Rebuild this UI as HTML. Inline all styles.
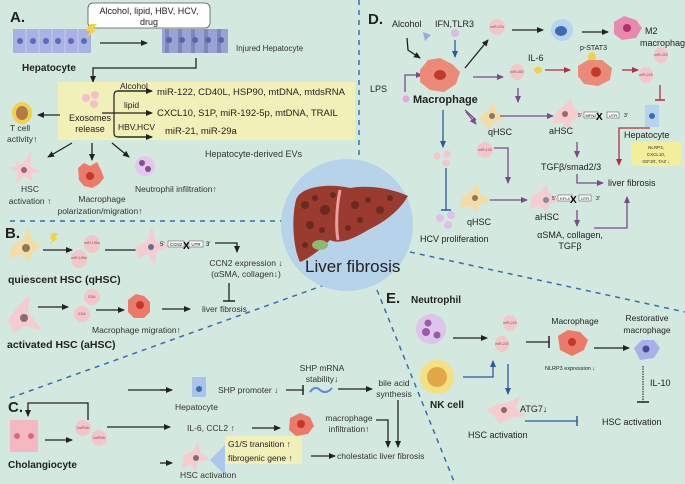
<!DOCTYPE html>
<html><head><meta charset="utf-8"><style>
html,body{margin:0;padding:0;background:#d3e8de;}
svg{display:block;font-family:"Liberation Sans",sans-serif;}
</style></head><body>
<svg width="685" height="484" viewBox="0 0 685 484" xmlns="http://www.w3.org/2000/svg">
<defs>
<marker id="ak" markerWidth="8" markerHeight="8" refX="6" refY="3" orient="auto" markerUnits="userSpaceOnUse"><path d="M0,0 L7,3 L0,6 Z" fill="#222"/></marker>
<marker id="ap" markerWidth="8" markerHeight="8" refX="6" refY="3" orient="auto" markerUnits="userSpaceOnUse"><path d="M0,0 L7,3 L0,6 Z" fill="#7a4a8a"/></marker>
<marker id="ab" markerWidth="8" markerHeight="8" refX="6" refY="3" orient="auto" markerUnits="userSpaceOnUse"><path d="M0,0 L7,3 L0,6 Z" fill="#2c5aa0"/></marker>
<marker id="ar" markerWidth="8" markerHeight="8" refX="6" refY="3" orient="auto" markerUnits="userSpaceOnUse"><path d="M0,0 L7,3 L0,6 Z" fill="#b03040"/></marker>
</defs>
<rect width="685" height="484" fill="#d3e8de"/>

<!-- dashed dividers -->
<g stroke="#3a6cb0" stroke-width="1.5" stroke-dasharray="5,5" fill="none">
<line x1="359" y1="0" x2="359" y2="160"/>
<line x1="10" y1="221" x2="282" y2="221"/>
<line x1="10" y1="398" x2="330" y2="283"/>
<line x1="410" y1="252" x2="685" y2="312"/>
<line x1="377" y1="290" x2="455" y2="484"/>
</g>

<!-- center liver -->
<circle cx="347" cy="225" r="66" fill="#b7d3ea"/>
<path d="M296,200 C300,186 330,183 350,188 C372,184 395,190 408,196 C400,210 385,222 368,230 C355,238 340,245 330,240 C320,250 310,258 300,262 C292,245 292,215 296,200Z" fill="#9b3a2e"/>
<path d="M340,190 C336,210 336,230 338,240" stroke="#e8a0a0" stroke-width="3" fill="none"/>
<ellipse cx="320" cy="245" rx="8" ry="5" fill="#8fb870"/>
<g fill="#6a2a22">
<circle cx="305" cy="205" r="4"/><circle cx="315" cy="198" r="3"/><circle cx="325" cy="210" r="5"/><circle cx="310" cy="225" r="4"/><circle cx="322" cy="230" r="3"/><circle cx="355" cy="205" r="4"/><circle cx="368" cy="200" r="3"/><circle cx="380" cy="210" r="4"/><circle cx="360" cy="220" r="3"/><circle cx="390" cy="198" r="3"/><circle cx="305" cy="245" r="3"/><circle cx="333" cy="195" r="3"/><circle cx="348" cy="228" r="3"/>
</g>
<text x="305" y="272" font-size="17" fill="#222">Liver fibrosis</text>

<!-- ===== A ===== -->
<text x="10" y="22" font-size="15" font-weight="bold" fill="#222">A.</text>
<rect x="88" y="3" width="122" height="25" rx="5" fill="#fff" stroke="#555" stroke-width="0.8"/>
<text x="149" y="14" font-size="9" text-anchor="middle" fill="#222">Alcohol, lipid, HBV, HCV,</text>
<text x="149" y="25" font-size="9" text-anchor="middle" fill="#222">drug</text>
<rect x="13" y="29" width="78" height="24" fill="#a9b2e2"/>
<g fill="#6068b8"><circle cx="20" cy="41" r="3"/><circle cx="33" cy="41" r="3"/><circle cx="46" cy="41" r="3"/><circle cx="58" cy="41" r="3"/><circle cx="71" cy="41" r="3"/><circle cx="84" cy="41" r="3"/></g>
<g stroke="#c6ccec" stroke-width="1"><line x1="26" y1="29" x2="26" y2="53"/><line x1="39" y1="29" x2="39" y2="53"/><line x1="52" y1="29" x2="52" y2="53"/><line x1="65" y1="29" x2="65" y2="53"/><line x1="78" y1="29" x2="78" y2="53"/></g>
<path d="M90,24 L97,24 L92,30 L96,30 L86,38 L90,31 L86,31 Z" fill="#f3d23a"/>
<line x1="100" y1="43" x2="147" y2="43" stroke="#222" stroke-width="1.3" marker-end="url(#ak)"/>
<rect x="162" y="29" width="66" height="24" fill="#9aa2d4"/>
<g fill="#8088b8"><rect x="165" y="29" width="4" height="24"/><rect x="178" y="29" width="4" height="24"/><rect x="191" y="29" width="4" height="24"/><rect x="204" y="29" width="4" height="24"/><rect x="217" y="29" width="4" height="24"/></g>
<g fill="#5a62b0"><circle cx="169" cy="40" r="3"/><circle cx="182" cy="40" r="3"/><circle cx="195" cy="40" r="3"/><circle cx="208" cy="40" r="3"/><circle cx="221" cy="40" r="3"/></g>
<text x="236" y="51" font-size="8" fill="#333">Injured Hepatocyte</text>
<text x="22" y="71" font-size="10" font-weight="bold" fill="#222">Hepatocyte</text>
<polyline points="196,58 196,68 93,68 93,82" fill="none" stroke="#222" stroke-width="1.3" marker-end="url(#ak)"/>
<rect x="58" y="82" width="297" height="58" fill="#f2f0b9"/>
<g fill="#f2c0c8"><circle cx="86" cy="98" r="4"/><circle cx="95" cy="95" r="4"/><circle cx="94" cy="104" r="4"/></g>
<text x="90" y="121" font-size="9" text-anchor="middle" fill="#222">Exosomes</text>
<text x="90" y="132" font-size="9" text-anchor="middle" fill="#222">release</text>
<path d="M152,91 L118,91 Q114,91 114,95 L114,133 Q114,137 118,137 L152,137" fill="none" stroke="#222" stroke-width="1.2"/>
<line x1="118" y1="91" x2="152" y2="91" stroke="#222" stroke-width="1.2" marker-end="url(#ak)"/>
<line x1="102" y1="113" x2="152" y2="113" stroke="#222" stroke-width="1.2" marker-end="url(#ak)"/>
<line x1="118" y1="137" x2="152" y2="137" stroke="#222" stroke-width="1.2" marker-end="url(#ak)"/>
<text x="120" y="89" font-size="8.5" fill="#222">Alcohol</text>
<text x="124" y="108" font-size="8.5" fill="#222">lipid</text>
<text x="118" y="130" font-size="8.5" fill="#222">HBV,HCV</text>
<text x="157" y="95" font-size="9.5" fill="#222">miR-122, CD40L, HSP90, mtDNA, mtdsRNA</text>
<text x="157" y="116" font-size="9.5" fill="#222">CXCL10, S1P, miR-192-5p,   mtDNA,  TRAIL</text>
<text x="165" y="134" font-size="9.5" fill="#222">miR-21, miR-29a</text>
<text x="205" y="157" font-size="9" fill="#333">Hepatocyte-derived EVs</text>
<line x1="60" y1="115" x2="38" y2="115" stroke="#222" stroke-width="1.3" marker-end="url(#ak)"/>
<ellipse cx="22" cy="113" rx="10" ry="11" fill="#f2d14a"/><ellipse cx="22" cy="113" rx="6" ry="7" fill="#b07a4a"/>
<text x="10" y="131" font-size="8.5" fill="#333">T  cell</text>
<text x="7" y="142" font-size="8.5" fill="#333">activity↑</text>
<line x1="72" y1="143" x2="48" y2="157" stroke="#222" stroke-width="1.3" marker-end="url(#ak)"/>
<line x1="92" y1="143" x2="92" y2="160" stroke="#222" stroke-width="1.3" marker-end="url(#ak)"/>
<line x1="112" y1="143" x2="129" y2="157" stroke="#222" stroke-width="1.3" marker-end="url(#ak)"/>
<path d="M14,160 L22,164 L32,150 L30,166 L42,172 L30,174 L34,182 L24,176 L16,184 L18,172 L8,168 L18,166Z" fill="#f5cdd0"/><circle cx="24" cy="170" r="3" fill="#9a6a6a"/>
<text x="30" y="192" font-size="8.5" text-anchor="middle" fill="#333">HSC</text>
<text x="30" y="204" font-size="8.5" text-anchor="middle" fill="#333">activation ↑</text>
<path d="M78,168 L84,163 L90,166 L97,162 L101,170 L104,178 L99,184 L92,188 L84,186 L79,180Z" fill="#ec7a6a"/><circle cx="90" cy="176" r="4" fill="#c0392b"/>
<text x="102" y="202" font-size="8.5" text-anchor="middle" fill="#333">Macrophage</text>
<text x="100" y="214" font-size="8.5" text-anchor="middle" fill="#333">polarization/migration↑</text>
<circle cx="145" cy="166" r="10" fill="#e3c8ea"/><circle cx="142" cy="163" r="3" fill="#8a4a9a"/><circle cx="148" cy="169" r="3" fill="#8a4a9a"/>
<text x="135" y="192" font-size="8.5" fill="#333">Neutrophil infiltration↑</text>

<!-- ===== B ===== -->
<text x="5" y="238" font-size="15" font-weight="bold" fill="#222">B.</text>
<path d="M12,246 L22,240 L28,228 L32,240 L42,246 L32,252 L28,262 L22,254 L8,258Z" fill="#f3dca6"/><circle cx="26" cy="248" r="4" fill="#8a7a5a"/>
<path d="M52,233 L58,233 L55,238 L58,238 L50,244 L53,239 L50,239Z" fill="#f3d23a"/>
<line x1="43" y1="250" x2="72" y2="250" stroke="#222" stroke-width="1.3" marker-end="url(#ak)"/>
<ellipse cx="92" cy="244" rx="8" ry="9" fill="#f3c6cc"/><text x="92" y="244" font-size="3.5" text-anchor="middle" fill="#844">miR-199a</text>
<ellipse cx="79" cy="259" rx="8" ry="9" fill="#f3c6cc"/><text x="79" y="259" font-size="3.5" text-anchor="middle" fill="#844">miR-199a</text>
<line x1="105" y1="250" x2="145" y2="250" stroke="#222" stroke-width="1.3" marker-end="url(#ak)"/>
<path d="M135,248 L148,240 L152,226 L156,242 L172,245 L156,252 L155,266 L148,254 L138,258Z" fill="#f5cdd0"/><circle cx="151" cy="247" r="3" fill="#6a6a9a"/>
<text x="160" y="246" font-size="6" fill="#222">5'</text>
<rect x="168" y="241" width="16" height="6" fill="#fff" stroke="#444" stroke-width="0.5"/><text x="176" y="246" font-size="4.5" text-anchor="middle">CCN2</text>
<text x="183" y="249" font-size="10" font-weight="bold">X</text>
<rect x="189" y="241" width="14" height="6" fill="#fff" stroke="#444" stroke-width="0.5"/><text x="196" y="246" font-size="4.5" text-anchor="middle">UTR</text>
<text x="206" y="246" font-size="6">3'</text>
<polyline points="215,243 237,243 237,252" fill="none" stroke="#222" stroke-width="1.3" marker-end="url(#ak)"/>
<text x="246" y="266" font-size="8.5" text-anchor="middle" fill="#333">CCN2 expression ↓</text>
<text x="246" y="277" font-size="8.5" text-anchor="middle" fill="#333">(αSMA, collagen↓)</text>
<line x1="229" y1="283" x2="229" y2="301" stroke="#222" stroke-width="1.3"/><line x1="223" y1="301" x2="235" y2="301" stroke="#222" stroke-width="1.5"/>
<text x="202" y="312" font-size="8.5" fill="#333">liver fibrosis</text>
<text x="8" y="283" font-size="10.5" font-weight="bold" fill="#222">quiescent HSC  (qHSC)</text>
<path d="M8,320 L18,306 L30,295 L28,312 L42,330 L24,326 L14,334Z" fill="#f5cdd0"/><circle cx="24" cy="318" r="4" fill="#8a6a6a"/>
<line x1="38" y1="307" x2="68" y2="307" stroke="#222" stroke-width="1.3" marker-end="url(#ak)"/>
<ellipse cx="92" cy="297" rx="8" ry="8" fill="#f3c6cc"/><text x="92" y="298" font-size="3.5" text-anchor="middle" fill="#844">EDA</text>
<ellipse cx="82" cy="314" rx="8" ry="8" fill="#f3c6cc"/><text x="82" y="315" font-size="3.5" text-anchor="middle" fill="#844">EDA</text>
<line x1="96" y1="310" x2="124" y2="310" stroke="#222" stroke-width="1.3" marker-end="url(#ak)"/>
<path d="M128,300 L136,294 L144,296 L150,302 L150,312 L144,318 L134,318 L128,312Z" fill="#ec7a6a"/><circle cx="140" cy="305" r="4" fill="#c0392b"/>
<line x1="162" y1="309" x2="190" y2="309" stroke="#222" stroke-width="1.3" marker-end="url(#ak)"/>
<text x="92" y="333" font-size="8.5" fill="#333">Macrophage migration↑</text>
<text x="7" y="348" font-size="10.5" font-weight="bold" fill="#222">activated HSC (aHSC)</text>

<!-- ===== C ===== -->
<text x="8" y="412" font-size="15" font-weight="bold" fill="#222">C.</text>
<polyline points="88,420 88,403 28,403 28,416" fill="none" stroke="#222" stroke-width="1.3" marker-end="url(#ak)"/>
<rect x="10" y="420" width="14" height="32" fill="#f3b8c0"/><rect x="24" y="420" width="14" height="32" fill="#f3b8c0"/>
<circle cx="17" cy="436" r="3" fill="#d86a80"/><circle cx="31" cy="436" r="3" fill="#d86a80"/>
<text x="8" y="468" font-size="10" font-weight="bold" fill="#222">Cholangiocyte</text>
<line x1="45" y1="440" x2="72" y2="440" stroke="#222" stroke-width="1.3" marker-end="url(#ak)"/>
<ellipse cx="83" cy="428" rx="8" ry="8" fill="#f3c6cc"/><text x="83" y="429" font-size="3.5" text-anchor="middle" fill="#844">lncRNA</text>
<ellipse cx="99" cy="438" rx="8" ry="8" fill="#f3c6cc"/><text x="99" y="439" font-size="3.5" text-anchor="middle" fill="#844">lncRNA</text>
<line x1="107" y1="427" x2="170" y2="427" stroke="#222" stroke-width="1.3" marker-end="url(#ak)"/>
<polyline points="170,390 128,390 Q125,390 125,395 L125,458 Q125,463 130,463 L170,463" fill="none" stroke="#222" stroke-width="1.3"/>
<line x1="160" y1="390" x2="172" y2="390" stroke="#222" stroke-width="1.3" marker-end="url(#ak)"/>
<line x1="160" y1="463" x2="172" y2="463" stroke="#222" stroke-width="1.3" marker-end="url(#ak)"/>
<rect x="192" y="377" width="14" height="20" fill="#a9c4e8"/><circle cx="199" cy="389" r="3" fill="#3a6cb0"/>
<text x="175" y="410" font-size="8.5" fill="#333">Hepatocyte</text>
<text x="218" y="393" font-size="8.5" fill="#333">SHP promoter ↓</text>
<line x1="286" y1="390" x2="303" y2="390" stroke="#222" stroke-width="1.3"/><line x1="303" y1="385" x2="303" y2="395" stroke="#222" stroke-width="1.5"/>
<text x="322" y="371" font-size="8.5" text-anchor="middle" fill="#333">SHP mRNA</text>
<text x="322" y="382" font-size="8.5" text-anchor="middle" fill="#333">stability↓</text>
<path d="M310,392 Q315,385 320,390 Q326,395 332,388" fill="none" stroke="#5a8ad0" stroke-width="2"/>
<line x1="338" y1="389" x2="372" y2="389" stroke="#222" stroke-width="1.3" marker-end="url(#ak)"/>
<text x="394" y="386" font-size="8.5" text-anchor="middle" fill="#333">bile acid</text>
<text x="394" y="397" font-size="8.5" text-anchor="middle" fill="#333">synthesis</text>
<text x="187" y="431" font-size="8.5" fill="#333">IL-6,  CCL2 ↑</text>
<line x1="252" y1="428" x2="280" y2="428" stroke="#222" stroke-width="1.3" marker-end="url(#ak)"/>
<path d="M290,418 L300,413 L310,417 L314,426 L308,434 L296,436 L289,430Z" fill="#ec7a6a"/><circle cx="301" cy="424" r="4" fill="#c0392b"/>
<text x="349" y="421" font-size="8.5" text-anchor="middle" fill="#333">macrophage</text>
<text x="349" y="432" font-size="8.5" text-anchor="middle" fill="#333">infiltration↑</text>
<polyline points="376,420 388,420 388,447" fill="none" stroke="#222" stroke-width="1.3" marker-end="url(#ak)"/>
<line x1="398" y1="400" x2="398" y2="447" stroke="#222" stroke-width="1.3" marker-end="url(#ak)"/>
<polygon points="210,460 225,445 225,475" fill="#a9c8ea"/>
<rect x="225" y="436" width="77" height="28" fill="#f2f0b9"/>
<text x="228" y="447" font-size="8.5" fill="#222">G1/S transition ↑</text>
<text x="228" y="461" font-size="8.5" fill="#222">fibrogenic gene ↑</text>
<path d="M184,455 L194,450 L198,440 L200,452 L210,460 L198,462 L196,472 L190,464 L182,468Z" fill="#f5cdd0"/><circle cx="196" cy="458" r="3" fill="#8a6a6a"/>
<text x="180" y="478" font-size="8.5" fill="#333">HSC activation</text>
<line x1="311" y1="456" x2="335" y2="456" stroke="#222" stroke-width="1.3" marker-end="url(#ak)"/>
<text x="337" y="459" font-size="8.5" fill="#333">cholestatic liver fibrosis</text>

<!-- ===== D ===== -->
<text x="368" y="24" font-size="15" font-weight="bold" fill="#222">D.</text>
<text x="392" y="27" font-size="9" fill="#222">Alcohol</text>
<text x="435" y="27" font-size="9" fill="#222">IFN,TLR3</text>
<polygon points="423,32 431,35 425,41" fill="#9aa8e0"/>
<circle cx="455" cy="33" r="4" fill="#e0b8e0"/>
<polyline points="407,38 408,50 420,58" fill="none" stroke="#222" stroke-width="1.3" marker-end="url(#ak)"/>
<line x1="455" y1="40" x2="455" y2="57" stroke="#2c5aa0" stroke-width="1.3" marker-end="url(#ab)"/>
<text x="370" y="92" font-size="9" fill="#222">LPS</text>
<polyline points="405,92 405,75 422,75" fill="none" stroke="#7a4a8a" stroke-width="1.3" marker-end="url(#ap)"/>
<path d="M420,70 L428,60 L440,58 L452,64 L460,72 L456,84 L444,92 L430,90 L420,82Z" fill="#ec8a7a"/><ellipse cx="440" cy="75" rx="6" ry="5" fill="#c0392b"/>
<circle cx="406" cy="99" r="3.5" fill="#e0a8e0"/>
<text x="413" y="103" font-size="11" font-weight="bold" fill="#222">Macrophage</text>
<line x1="465" y1="68" x2="488" y2="40" stroke="#222" stroke-width="1.3" marker-end="url(#ak)"/>
<ellipse cx="497" cy="27" rx="8" ry="8" fill="#f3c6cc"/><text x="497" y="28" font-size="3.5" text-anchor="middle" fill="#844">miR-27a</text>
<line x1="512" y1="30" x2="543" y2="30" stroke="#222" stroke-width="1.3" marker-end="url(#ak)"/>
<circle cx="562" cy="30" r="11" fill="#b7d4ee"/><ellipse cx="561" cy="31" rx="6" ry="5" fill="#3a6cb0"/>
<line x1="582" y1="32" x2="608" y2="32" stroke="#222" stroke-width="1.3" marker-end="url(#ak)"/>
<path d="M614,22 L624,16 L636,20 L642,28 L636,38 L622,40 L614,34Z" fill="#e88ab0"/><circle cx="627" cy="28" r="4" fill="#b03070"/>
<text x="645" y="34" font-size="9" fill="#222">M2</text>
<text x="640" y="46" font-size="9" fill="#222">macrophage</text>
<line x1="473" y1="77" x2="503" y2="77" stroke="#7a4a8a" stroke-width="1.3" marker-end="url(#ap)"/>
<ellipse cx="517" cy="72" rx="7" ry="8" fill="#f3c6cc"/><text x="517" y="73" font-size="3.5" text-anchor="middle" fill="#844">miR-500</text>
<text x="528" y="61" font-size="9" fill="#222">IL-6</text>
<ellipse cx="538" cy="70" rx="4" ry="3.5" fill="#f2d14a"/>
<line x1="545" y1="70" x2="570" y2="70" stroke="#b03040" stroke-width="1.3" marker-end="url(#ar)"/>
<text x="580" y="50" font-size="7" fill="#222">p-STAT3</text>
<ellipse cx="592" cy="57" rx="4" ry="5" fill="#f2d14a"/>
<path d="M578,66 L588,60 L602,60 L612,68 L610,80 L598,86 L584,84 L578,76Z" fill="#ec8a7a"/><ellipse cx="596" cy="72" rx="5" ry="5" fill="#c0392b"/>
<line x1="622" y1="70" x2="638" y2="70" stroke="#b03040" stroke-width="1.3" marker-end="url(#ar)"/>
<ellipse cx="661" cy="55" rx="7" ry="8" fill="#f3c6cc"/><text x="661" y="56" font-size="3.5" text-anchor="middle" fill="#844">miR-223</text>
<ellipse cx="646" cy="75" rx="7" ry="8" fill="#f3c6cc"/><text x="646" y="76" font-size="3.5" text-anchor="middle" fill="#844">miR-223</text>
<line x1="660" y1="85" x2="660" y2="100" stroke="#b03040" stroke-width="1.3"/><line x1="655" y1="100" x2="665" y2="100" stroke="#b03040" stroke-width="1.5"/>
<rect x="645" y="105" width="14" height="22" fill="#b7d4ee"/><circle cx="652" cy="116" r="3" fill="#3a6cb0"/>
<text x="624" y="138" font-size="9" fill="#222">Hepatocyte</text>
<rect x="631" y="142" width="50" height="24" rx="3" fill="#f2ee9a"/>
<text x="656" y="149" font-size="4.5" text-anchor="middle" fill="#333">NLRP3,</text>
<text x="656" y="156" font-size="4.5" text-anchor="middle" fill="#333">CXCL10,</text>
<text x="656" y="163" font-size="4.5" text-anchor="middle" fill="#333">IGF1R, TAZ ↓</text>
<polyline points="650,128 619,128 619,165" fill="none" stroke="#b03040" stroke-width="1.3" marker-end="url(#ar)"/>
<line x1="518" y1="88" x2="518" y2="102" stroke="#7a4a8a" stroke-width="1.3" marker-end="url(#ap)"/>
<path d="M466,112 L476,124" stroke="#7a4a8a" stroke-width="1.3" marker-end="url(#ap)"/>
<path d="M478,118 L488,110 L494,102 L496,112 L506,118 L494,122 L490,130 L484,122Z" fill="#f3dca6"/><circle cx="492" cy="116" r="3" fill="#8a7a5a"/>
<text x="488" y="135" font-size="9" fill="#222">qHSC</text>
<line x1="500" y1="116" x2="553" y2="116" stroke="#7a4a8a" stroke-width="1.3" marker-end="url(#ap)"/>
<path d="M556,112 L566,104 L570,98 L574,108 L584,116 L572,120 L568,130 L562,122 L552,124Z" fill="#f5cdd0"/><circle cx="565" cy="114" r="3" fill="#9a6a6a"/>
<text x="549" y="134" font-size="9" fill="#222">aHSC</text>
<text x="578" y="117" font-size="5" fill="#222">5'</text>
<rect x="584" y="112" width="14" height="6" fill="#fff" stroke="#444" stroke-width="0.5"/><text x="591" y="117" font-size="4" text-anchor="middle">MFN2</text>
<text x="596" y="120" font-size="10" font-weight="bold">X</text>
<rect x="607" y="112" width="12" height="6" fill="#fff" stroke="#444" stroke-width="0.5"/><text x="613" y="117" font-size="4" text-anchor="middle">UTR</text>
<text x="624" y="117" font-size="5">3'</text>
<line x1="577" y1="142" x2="577" y2="157" stroke="#7a4a8a" stroke-width="1.3" marker-end="url(#ap)"/>
<text x="541" y="170" font-size="9" fill="#222">TGFβ/smad2/3</text>
<polyline points="577,174 577,183 603,183" fill="none" stroke="#7a4a8a" stroke-width="1.3" marker-end="url(#ap)"/>
<text x="608" y="186" font-size="9" fill="#222">liver fibrosis</text>
<line x1="443" y1="110" x2="443" y2="147" stroke="#2c5aa0" stroke-width="1.3" marker-end="url(#ab)"/>
<g fill="#f3c6cc"><circle cx="437" cy="156" r="3.5"/><circle cx="447" cy="154" r="3.5"/><circle cx="446" cy="163" r="3.5"/></g>
<line x1="446" y1="168" x2="446" y2="210" stroke="#2c5aa0" stroke-width="1.3"/><line x1="441" y1="210" x2="451" y2="210" stroke="#2c5aa0" stroke-width="1.5"/>
<g fill="#e0c0e8"><circle cx="440" cy="218" r="4"/><circle cx="451" cy="215" r="4"/><circle cx="448" cy="225" r="4"/></g>
<text x="420" y="242" font-size="9" fill="#222">HCV proliferation</text>
<path d="M465,110 L476,120" stroke="#7a4a8a" stroke-width="1.3"/>
<ellipse cx="485" cy="150" rx="8" ry="8" fill="#f3c6cc"/><text x="485" y="151" font-size="3.5" text-anchor="middle" fill="#844">miR-103</text>
<polyline points="494,148 508,148 508,183" fill="none" stroke="#7a4a8a" stroke-width="1.3" marker-end="url(#ap)"/>
<path d="M462,198 L472,190 L478,184 L480,194 L492,200 L480,204 L476,212 L470,206 L460,208Z" fill="#f3dca6"/><circle cx="475" cy="198" r="3" fill="#8a7a5a"/>
<text x="467" y="225" font-size="9" fill="#222">qHSC</text>
<line x1="490" y1="200" x2="527" y2="200" stroke="#7a4a8a" stroke-width="1.3" marker-end="url(#ap)"/>
<path d="M532,196 L542,190 L546,184 L550,194 L560,200 L550,204 L546,212 L540,206 L530,208Z" fill="#f5cdd0"/><circle cx="546" cy="200" r="3" fill="#8a8a9a"/>
<text x="535" y="220" font-size="9" fill="#222">aHSC</text>
<text x="552" y="200" font-size="5" fill="#222">5'</text>
<rect x="558" y="195" width="14" height="6" fill="#fff" stroke="#444" stroke-width="0.5"/><text x="565" y="200" font-size="4" text-anchor="middle">KFL4</text>
<text x="570" y="203" font-size="10" font-weight="bold">X</text>
<rect x="579" y="195" width="12" height="6" fill="#fff" stroke="#444" stroke-width="0.5"/><text x="585" y="200" font-size="4" text-anchor="middle">UTR</text>
<text x="596" y="200" font-size="5">3'</text>
<line x1="577" y1="210" x2="577" y2="226" stroke="#7a4a8a" stroke-width="1.3" marker-end="url(#ap)"/>
<text x="570" y="238" font-size="9" text-anchor="middle" fill="#222">αSMA, collagen,</text>
<text x="570" y="249" font-size="9" text-anchor="middle" fill="#222">TGFβ</text>
<polyline points="594,228 627,228 627,197" fill="none" stroke="#7a4a8a" stroke-width="1.3" marker-end="url(#ap)"/>

<!-- ===== E ===== -->
<text x="386" y="303" font-size="15" font-weight="bold" fill="#222">E.</text>
<text x="411" y="303" font-size="10" font-weight="bold" fill="#222">Neutrophil</text>
<circle cx="431" cy="329" r="15" fill="#dcc4ea"/>
<g fill="#9a5aaa"><circle cx="428" cy="323" r="3.5"/><circle cx="426" cy="332" r="4"/><circle cx="437" cy="335" r="3.5"/></g>
<line x1="453" y1="338" x2="487" y2="338" stroke="#222" stroke-width="1.3" marker-end="url(#ak)"/>
<ellipse cx="510" cy="323" rx="7" ry="8" fill="#f3c6cc"/><text x="510" y="324" font-size="3.5" text-anchor="middle" fill="#844">miR-223</text>
<ellipse cx="502" cy="344" rx="7" ry="8" fill="#f3c6cc"/><text x="502" y="345" font-size="3.5" text-anchor="middle" fill="#844">miR-223</text>
<line x1="526" y1="342" x2="549" y2="342" stroke="#222" stroke-width="1.3"/><line x1="549" y1="336" x2="549" y2="348" stroke="#222" stroke-width="1.5"/>
<text x="575" y="324" font-size="8.5" text-anchor="middle" fill="#222">Macrophage</text>
<path d="M558,336 L568,330 L580,332 L588,340 L584,350 L572,356 L560,350Z" fill="#ec7a6a"/><circle cx="572" cy="342" r="4" fill="#c0392b"/>
<text x="545" y="370" font-size="5.5" fill="#222">NLRP3 expression ↓</text>
<line x1="594" y1="348" x2="629" y2="348" stroke="#222" stroke-width="1.3" marker-end="url(#ak)"/>
<text x="647" y="321" font-size="8.5" text-anchor="middle" fill="#222">Restorative</text>
<text x="647" y="333" font-size="8.5" text-anchor="middle" fill="#222">macrophage</text>
<path d="M634,348 L642,340 L654,340 L660,348 L654,358 L640,360Z" fill="#aab0e8"/><circle cx="646" cy="349" r="3.5" fill="#4a4a9a"/>
<line x1="643" y1="366" x2="643" y2="402" stroke="#444" stroke-width="1.3" stroke-dasharray="1.5,1"/><line x1="637" y1="402" x2="649" y2="402" stroke="#222" stroke-width="1.5"/>
<text x="650" y="386" font-size="9" fill="#222">IL-10</text>
<text x="602" y="425" font-size="9" fill="#222">HSC activation</text>
<circle cx="437" cy="377" r="17" fill="#f4e080"/><circle cx="437" cy="377" r="10" fill="#e0a848"/>
<text x="430" y="408" font-size="10" font-weight="bold" fill="#222">NK cell</text>
<polyline points="463,377 493,377 493,361" fill="none" stroke="#2c5aa0" stroke-width="1.3" marker-end="url(#ab)"/>
<line x1="508" y1="364" x2="508" y2="394" stroke="#2c5aa0" stroke-width="1.3" marker-end="url(#ab)"/>
<path d="M486,410 L498,404 L510,402 L520,396 L516,408 L526,416 L510,418 L500,424 L494,416Z" fill="#f5cdd0"/><circle cx="504" cy="410" r="3" fill="#8a6a6a"/>
<text x="520" y="412" font-size="9" fill="#222">ATG7↓</text>
<text x="468" y="438" font-size="9" fill="#222">HSC activation</text>
<line x1="525" y1="421" x2="577" y2="421" stroke="#2c5aa0" stroke-width="1.3"/><line x1="577" y1="416" x2="577" y2="426" stroke="#2c5aa0" stroke-width="1.5"/>
</svg>
</body></html>
